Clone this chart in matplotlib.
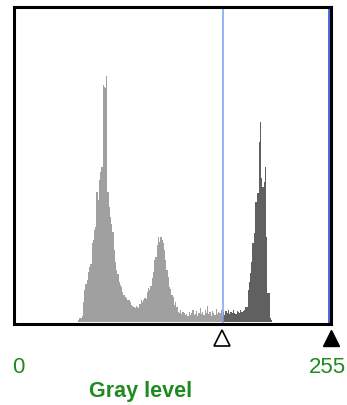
import numpy as np
import matplotlib
matplotlib.use('Agg')
import matplotlib.pyplot as plt
import matplotlib.transforms as mtransforms

# gray levels that have pixels, and their counts (in plot units)
levels = np.arange(52, 210)
counts = np.array([
    2, 4, 4, 6, 20, 32, 38, 42, 50, 55,            # 52-61
    58, 79, 82, 92, 95, 130, 122, 142, 150, 155,   # 62-71
    237, 235, 234, 246, 130, 115, 105, 98, 90, 72, # 72-81
    60, 52, 48, 40, 37, 35, 30, 27, 25, 24,        # 82-91
    22, 22, 20, 17, 16, 15, 14, 16, 15, 14,        # 92-101
    18, 22, 20, 22, 24, 23, 30, 34, 32, 36,        # 102-111
    44, 50, 62, 65, 77, 85, 80, 85, 82, 79,        # 112-121
    72, 62, 52, 45, 35, 33, 27, 25, 17, 20,        # 122-131
    15, 10, 9, 12, 8, 10, 9, 7, 8, 6,              # 132-141
    10, 7, 9, 12, 7, 8, 11, 6, 9, 14,              # 142-151
    8, 10, 7, 12, 9, 16, 8, 10, 6, 11,             # 152-161
    9, 7, 13, 8, 10, 9, 12, 6, 10, 7,              # 162-171
    11, 9, 12, 8, 10, 9, 12, 9, 8, 11,             # 172-181
    10, 9, 12, 10, 11, 12, 15, 15, 32, 40,         # 182-191
    49, 60, 79, 89, 120, 120, 129, 180, 200, 144,  # 192-201
    135, 140, 155, 85, 29, 29, 4, 2,               # 202-209
])
threshold = 170
max_level = 255
tick_labels = ['0', '255']
xlabel = 'Gray level'

green = '#1f8a1f'

fig = plt.figure(figsize=(3.47, 4.05), dpi=100)
ax = fig.add_axes([13.5 / 347, 81.5 / 405, 317 / 347, 316.5 / 405])
ax.set_xlim(-1, 257)
ax.set_ylim(-1.5, 315)

edges = np.append(levels - 0.5, levels[-1] + 0.5)
n_light = int(np.sum(levels < threshold))
ax.stairs(counts[:n_light], edges[:n_light + 1], fill=True, color='#a0a0a0', lw=0)
ax.stairs(counts[n_light:], edges[n_light:], fill=True, color='#606060', lw=0)
# bin right at the threshold is marked orange
i = n_light - 1
ax.stairs([6], edges[i:i + 2], fill=True, color='#d98a1c', lw=0)

ax.axvline(threshold - 0.5, color='#7f9ff2', lw=1.1)
ax.axvline(max_level + 0.5, color='#3a5ae8', lw=1.3)

for s in ax.spines.values():
    s.set_linewidth(2.2)
    s.set_color('black')
ax.set_xticks([])
ax.set_yticks([])

# triangle markers below the frame
trans = mtransforms.blended_transform_factory(ax.transData, ax.transAxes)
ax.plot([threshold - 1], [-0.047], marker='^', ms=12, mfc='white', mec='black',
        mew=1.2, transform=trans, clip_on=False, ls='none')
ax.plot([max_level + 2.3], [-0.047], marker='^', ms=12, mfc='black', mec='black',
        mew=1.0, transform=trans, clip_on=False, ls='none')

fig.text(12.0 / 347, (405 - 372.7) / 405, tick_labels[0], color=green,
         fontsize=16, family='Liberation Sans', ha='left', va='baseline')
fig.text(346 / 347, (405 - 372.7) / 405, tick_labels[1], color=green,
         fontsize=16, family='Liberation Sans', ha='right', va='baseline')
fig.text(89.0 / 347, (405 - 396.7) / 405, xlabel, color=green, fontsize=15.5,
         fontweight='bold', family='Liberation Sans', ha='left', va='baseline')

fig.savefig('out.png', dpi=100)
